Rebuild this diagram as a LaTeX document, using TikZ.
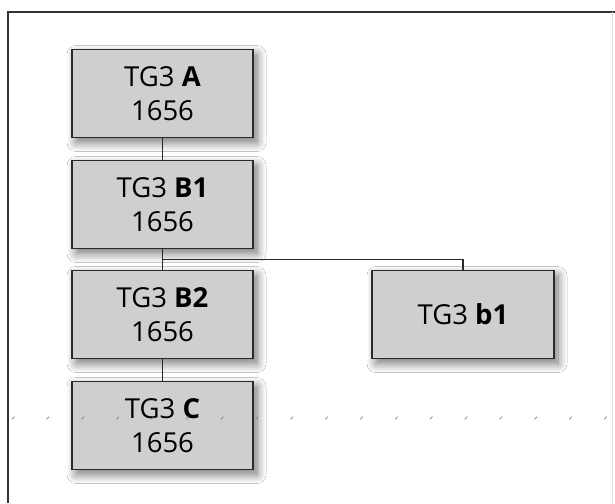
\documentclass[tikz,border=0pt]{standalone}
\usepackage{fontspec}
\setmainfont{Open Sans}
\usetikzlibrary{calc,shadows.blur}
\definecolor{boxfill}{HTML}{CFCFCF}
\definecolor{boxline}{HTML}{2A2A2A}
\tikzset{
  tgbox/.style={draw=boxline, line width=1.4pt, fill=boxfill, inner sep=0pt,
    minimum width=181pt, minimum height=88pt, align=center,
    font=\fontsize{27.5}{34}\selectfont,
    blur shadow={shadow xshift=4pt, shadow yshift=-5pt, shadow blur steps=10, shadow blur radius=9pt, shadow opacity=55}},
  link/.style={draw=boxline, line width=1.2pt},
  tick/.style={draw=black!50, line width=0.7pt}
}
\begin{document}
\begin{tikzpicture}[x=1pt,y=-1pt]
\useasboundingbox (0,0) rectangle (615,503);
\fill[white] (0,0) rectangle (615,503);
% frame
\draw[line width=1.2pt, black!80] (8,503) -- (8,12) -- (615,12);
\draw[line width=0.6pt, black!12] (612,12) -- (612,503);
% boxes
\node[tgbox] (A)  at (162.5,93.5)  {TG3 \textbf{A}\\1656};
\node[tgbox] (B1) at (162.5,204.5) {TG3 \textbf{B1}\\1656};
\node[tgbox] (B2) at (162.5,314.5) {TG3 \textbf{B2}\\1656};
\node[tgbox] (C)  at (162.5,425.5) {TG3 \textbf{C}\\1656};
\node[tgbox, minimum width=182pt] (b1) at (463,314.5) {TG3 \textbf{b1}};
% connectors
\draw[link] (A.south) -- (B1.north);
\draw[link] (B1.south) -- (B2.north);
\draw[link] ($(B1.south)!0.5!(B2.north)$) -| (b1.north);
\draw[link] (B2.south) -- (C.north);
% faint tick marks
\foreach \k in {0,...,17} {
  \draw[tick] ({13+34.85*\k-1.3},419.3) -- ({13+34.85*\k+1.3},416.7);
}
\end{tikzpicture}
\end{document}
